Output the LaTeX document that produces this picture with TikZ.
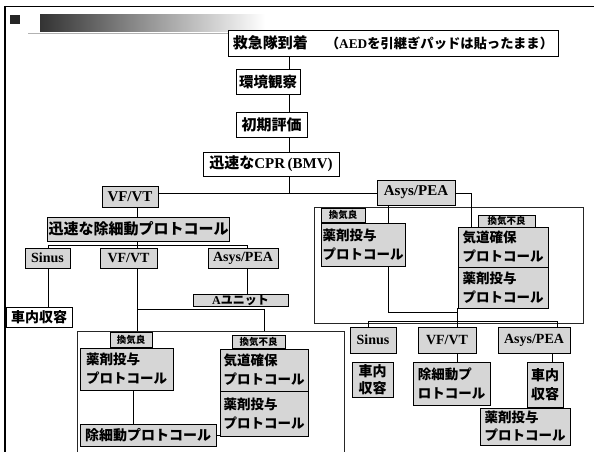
\documentclass[tikz,border=0pt]{standalone}
\usepackage{fontspec}
\setmainfont{Liberation Serif}
\newfontfamily\cjk{Noto Sans CJK JP}
\newcommand\J[1]{{\cjk #1}}
\newcommand\fs[2]{\fontsize{#1}{#2}\selectfont}
\begin{document}
\begin{tikzpicture}[x=1pt,y=-1pt,
  bx/.style={draw=black,line width=0.8pt,inner sep=1pt,font=\bfseries},
  wbx/.style={bx,fill=white},
  gbx/.style={bx,fill=black!16},
  lbl/.style={bx,fill=black!16,line width=0.6pt,inner sep=0pt,font=\bfseries\cjk\fs{9.5}{10}},
  ln/.style={line width=0.8pt,draw=black},
  frm/.style={line width=0.7pt,draw=black!85},
]
\useasboundingbox (0,0) rectangle (594,452);
\clip (0,0) rectangle (594,452);
% page frame and header decoration
\draw[line width=2pt] (5,6) -- (5,460);
\draw[line width=1.4pt] (4,6.5) -- (600,6.5);
\fill[black!85] (10,15) rectangle (20,24);
\shade[left color=black!80,middle color=black!45,right color=white] (40,15) rectangle (265,32);
\draw[black!30,line width=0.5pt] (28,33.5) -- (240,33.5);
% group frames
\draw[frm] (314,207) rectangle (583,323);
\draw[frm] (77,331) rectangle (344,470);
% helper coordinates
\coordinate (xs) at (289,0);
\coordinate (j1) at (289,193);
\coordinate (xl) at (137,0);
\coordinate (j2) at (137,245);
\coordinate (j2a) at (48,245);
\coordinate (j2b) at (247,245);
\coordinate (j3) at (137,309);
\coordinate (j3b) at (264,309);
\coordinate (r2) at (77,331);
\coordinate (xa) at (388,0);
\coordinate (j4) at (457,312);
\coordinate (j5) at (471,193);
\coordinate (j6a) at (368,321);
\coordinate (j6b) at (557,321);
\coordinate (j7) at (552,0);
\coordinate (j8) at (133,0);
% top column
\node[wbx,minimum width=330pt,minimum height=26pt] (top) at (393,43)
  {\J{\fs{15}{16}救急隊到着}\hspace{18pt}\fs{13.3}{15}\J{（}AED\J{を引継ぎパッドは貼ったまま）}};
\node[wbx,minimum width=64pt,minimum height=25pt,font=\bfseries\cjk\fs{14.5}{16}] (env) at (268,81.5) {環境観察};
\node[wbx,minimum width=71pt,minimum height=25pt,font=\bfseries\cjk\fs{15}{16}] (init) at (271.5,124.5) {初期評価};
\node[wbx,minimum width=136pt,minimum height=24pt] (cpr) at (271,164)
  {\fs{15}{16}\J{迅速な}CPR\,(BMV)};
\node[gbx,minimum width=56pt,minimum height=21pt,font=\bfseries\fs{15}{16}] (vf1) at (130,196.5) {VF/VT};
\node[gbx,minimum width=78pt,minimum height=25pt,font=\bfseries\fs{15}{16}] (asys1) at (416,192.5) {Asys/PEA};
% left branch
\node[gbx,minimum width=177pt,minimum height=24pt,font=\bfseries\cjk\fs{15}{16}] (defib) at (138.5,229) {迅速な除細動プロトコール};
\node[gbx,minimum width=45pt,minimum height=20pt,font=\bfseries\fs{14}{15}] (sinus1) at (47.5,258) {Sinus};
\node[gbx,minimum width=57pt,minimum height=20pt,font=\bfseries\fs{14}{15}] (vf2) at (128.5,258) {VF/VT};
\node[gbx,minimum width=70pt,minimum height=20pt,font=\bfseries\fs{14}{15}] (asys2) at (243,258) {Asys/PEA};
\node[gbx,minimum width=95pt,minimum height=12pt,inner sep=0pt,font=\bfseries\fs{12}{12}] (aunit) at (240.5,300) {A\J{ユニット}};
\node[wbx,minimum width=66pt,minimum height=20pt,font=\bfseries\cjk\fs{14}{15}] (car1) at (39,317) {車内収容};
% lower-left group
\node[gbx,minimum width=93pt,minimum height=42pt,align=left,font=\bfseries\cjk\fs{13.5}{19}] (drug4) at (126.5,369) {薬剤投与\\プロトコール};
\node[lbl,minimum width=42pt,minimum height=15pt] (gl2) at (131,339.5) {換気良};
\node[gbx,minimum width=136pt,minimum height=22pt,font=\bfseries\cjk\fs{14}{15}] (defib4) at (148,435) {除細動プロトコール};
\node[gbx,minimum width=88pt,minimum height=42pt,align=left,font=\bfseries\cjk\fs{13.5}{19}] (air4) at (264,370) {気道確保\\プロトコール};
\node[gbx,minimum width=88pt,minimum height=45pt,align=left,font=\bfseries\cjk\fs{13.5}{19}] (drug5) at (264,413.5) {薬剤投与\\プロトコール};
\node[lbl,minimum width=53pt,minimum height=13pt] (gb2) at (258.5,341.5) {換気不良};
% right group
\node[gbx,minimum width=84pt,minimum height=43pt,align=left,font=\bfseries\cjk\fs{13.5}{19}] (drug1) at (363,244.5) {薬剤投与\\プロトコール};
\node[lbl,minimum width=44pt,minimum height=14pt] (gl1) at (343,215) {換気良};
\node[gbx,minimum width=90pt,minimum height=40pt,align=left,font=\bfseries\cjk\fs{13.5}{19}] (air1) at (503,247) {気道確保\\プロトコール};
\node[gbx,minimum width=90pt,minimum height=41pt,align=left,font=\bfseries\cjk\fs{13.5}{19}] (drug2) at (503,287.5) {薬剤投与\\プロトコール};
\node[lbl,minimum width=57pt,minimum height=12pt] (gb1) at (506.5,221) {換気不良};
% bottom-right row
\node[gbx,minimum width=46pt,minimum height=26pt,font=\bfseries\fs{14}{15}] (sinus3) at (373,340) {Sinus};
\node[gbx,minimum width=58pt,minimum height=26pt,font=\bfseries\fs{14}{15}] (vf3) at (447,340) {VF/VT};
\node[gbx,minimum width=72pt,minimum height=26pt,font=\bfseries\fs{14}{15}] (asys3) at (534,340) {Asys/PEA};
\node[gbx,minimum width=41pt,minimum height=35pt,font=\bfseries\cjk\fs{14}{17},align=center] (car2) at (372.5,379.5) {車内\\収容};
\node[gbx,minimum width=77pt,minimum height=43pt,font=\bfseries\cjk\fs{13.5}{19},align=left] (defib3) at (451.5,383.5) {除細動プ\\ロトコール};
\node[gbx,minimum width=36pt,minimum height=45pt,font=\bfseries\cjk\fs{14}{19},align=center] (car3) at (545,384.5) {車内\\収容};
\node[gbx,minimum width=90pt,minimum height=37pt,font=\bfseries\cjk\fs{13.5}{18},align=left] (drug3) at (525,426.5) {薬剤投与\\プロトコール};
% connectors
\draw[ln] (top.south -| xs) -- (env.north -| xs);
\draw[ln] (env.south -| xs) -- (init.north -| xs);
\draw[ln] (init.south -| xs) -- (cpr.north -| xs);
\draw[ln] (cpr.south -| j1) -- (j1);
\draw[ln] (vf1.east |- j1) -- (asys1.west |- j1);
\draw[ln] (vf1.south -| xl) -- (defib.north -| xl);
\draw[ln] (defib.south -| j2) -- (j2);
\draw[ln] (sinus1.north -| j2a) -- (j2a) -- (j2b) -- (asys2.north -| j2b);
\draw[ln] (j2) -- (vf2.north -| j2);
\draw[ln] (sinus1.south -| j2a) -- (car1.north -| j2a);
\draw[ln] (asys2.south -| j2b) -- (aunit.north -| j2b);
\draw[ln] (vf2.south -| j3) -- (j3 |- r2);
\draw[ln] (j3) -- (j3b) -- (j3b |- r2);
\draw[ln] (asys1.south -| xa) -- (drug1.north -| xa);
\draw[ln] (drug1.south -| xa) -- (xa |- j4) -- (j4);
\draw[ln] (drug2.south -| j4) -- (vf3.north -| j4);
\draw[ln] (asys1.east |- j5) -- (j5) -- (air1.north -| j5);
\draw[ln] (sinus3.north -| j6a) -- (j6a) -- (j6b) -- (asys3.north -| j6b);
\draw[ln] (vf3.south -| j4) -- (defib3.north -| j4);
\draw[ln] (asys3.south -| j7) -- (car3.north -| j7);
\draw[ln] (car3.south -| j7) -- (drug3.north -| j7);
\draw[ln] (drug4.south -| j8) -- (defib4.north -| j8);
\draw[ln] (defib4.east) -- (defib4.east -| air4.west);
\end{tikzpicture}
\end{document}
